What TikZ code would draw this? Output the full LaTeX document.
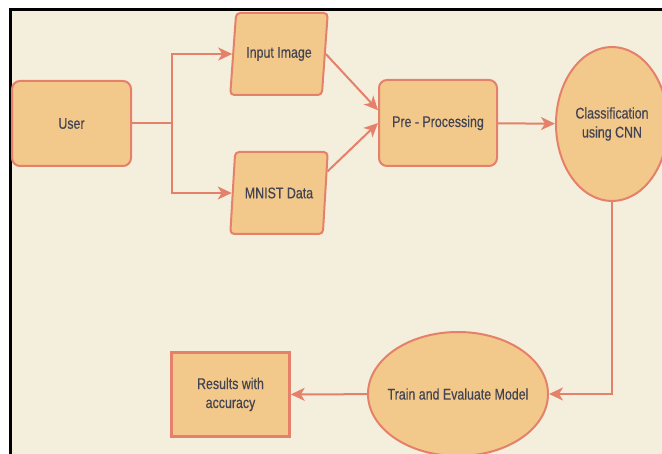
\documentclass[tikz,border=0pt]{standalone}
\usepackage{fontspec}
\setmainfont{Liberation Sans}[FakeStretch=0.8,FakeBold=0.4]
\usetikzlibrary{shapes.geometric,arrows.meta}
\definecolor{boxfill}{HTML}{F2C98B}
\definecolor{boxline}{HTML}{E5806A}
\definecolor{paper}{HTML}{F3EFDC}
\definecolor{inktext}{HTML}{434352}
\begin{document}
\begin{tikzpicture}[x=1pt,y=-1pt,
	every node/.style={draw=boxline,fill=boxfill,line width=2pt,text=inktext,
		font=\fontsize{15.5}{19}\selectfont,align=center,inner sep=2pt},
	roundbox/.style={rectangle,rounded corners=8pt,minimum width=119pt,minimum height=85pt},
	databox/.style={trapezium,trapezium left angle=75,trapezium right angle=105,
		trapezium stretches=true,rounded corners=4pt,minimum width=98pt,minimum height=82pt},
	ovalbox/.style={ellipse,inner sep=0pt},
	plainbox/.style={rectangle,line width=2.5pt,minimum width=118pt,minimum height=84pt},
	line/.style={draw=boxline,line width=2pt},
	link/.style={line,-{Stealth[length=14pt,width=13pt,inset=4pt]}}]
\useasboundingbox (0,0) rectangle (662,454);
\clip (0,0) rectangle (662,454);
\fill[paper] (10,10) rectangle (662,454);
\draw[line width=3pt] (10,454) -- (10,10) -- (662,10);

\node[roundbox] (user) at (71.5,123.5) {User};
\node[databox] (input) at (279,54) {Input Image};
\node[databox] (mnist) at (279,193) {MNIST Data};
\node[roundbox,minimum width=118pt,minimum height=86pt] (pre) at (438,123) {Pre - Processing};
\node[ovalbox,minimum width=112pt,minimum height=154pt] (cnn) at (612,124) {Classification\\using CNN};
\node[ovalbox,minimum width=180pt,minimum height=124pt] (train) at (458,394)
	{\makebox[0pt]{Train and Evaluate Model}};
\node[plainbox] (result) at (230.5,394.5) {Results with\\accuracy};

\coordinate (split) at (172,123.5);
\draw[line] (user) -- (split);
\draw[link] (split) |- (input.west);
\draw[link] (split) |- (mnist.west);
\draw[link] (input.east) -- (pre.168);
\draw[link] (mnist.24) -- (pre.west);
\draw[link] (pre) -- (cnn);
\draw[link] (cnn.south) |- (train.east);
\draw[link] (train) -- (result);
\end{tikzpicture}
\end{document}
